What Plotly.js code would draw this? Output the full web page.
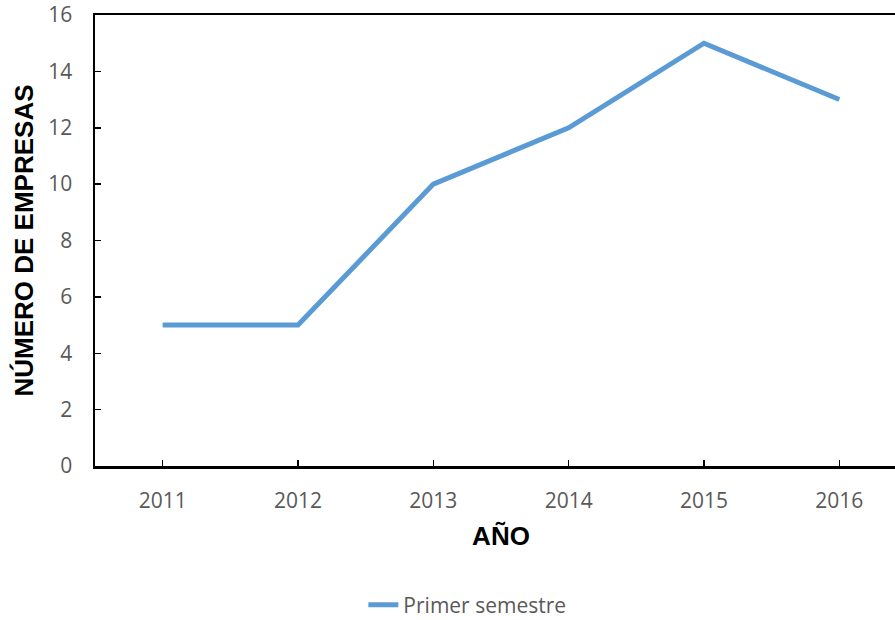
<!DOCTYPE html>
<html>
<head>
<meta charset="utf-8">
<script src="https://cdn.plot.ly/plotly-3.0.1.min.js"></script>
<style>
html,body{margin:0;padding:0;overflow:hidden;background:#fff;}
#chart{width:920px;height:620px;}
</style>
</head>
<body>
<div id="chart"></div>
<script>
const years = ['2011', '2012', '2013', '2014', '2015', '2016'];
const primerSemestre = [5, 5, 10, 12, 15, 13];
const yTicks = [0, 2, 4, 6, 8, 10, 12, 14, 16];
const seriesName = 'Primer semestre';
const xTitle = 'AÑO';
const yTitle = 'NÚMERO DE EMPRESAS';

const tickFont = {family: '"Open Sans", "Noto Sans", sans-serif', size: 21, color: '#595959'};
const titleFont = {family: '"Liberation Sans", Arial, sans-serif', size: 26, color: '#000000', weight: 'bold'};

const trace = {
  x: years,
  y: primerSemestre,
  type: 'scatter',
  mode: 'lines',
  name: seriesName,
  line: {color: '#5B9BD5', width: 5}
};

const layout = {
  width: 920,
  height: 620,
  margin: {l: 95, r: 13, t: 15, b: 154},
  paper_bgcolor: '#ffffff',
  plot_bgcolor: '#ffffff',
  showlegend: true,
  legend: {
    orientation: 'h',
    xref: 'container', yref: 'container',
    x: 0.508, xanchor: 'center',
    y: 0.024, yanchor: 'middle',
    font: tickFont
  },
  xaxis: {
    type: 'category',
    range: [-0.5, 5.5],
    automargin: false,
    showgrid: false,
    zeroline: false,
    showline: true,
    linecolor: '#000000',
    linewidth: 2.5,
    mirror: true,
    ticks: 'inside',
    ticklen: 6,
    tickwidth: 1.5,
    tickcolor: '#000000',
    tickfont: tickFont,
    ticklabelstandoff: 14,
    title: {text: xTitle, font: titleFont, standoff: 14}
  },
  yaxis: {
    range: [0, 16],
    tickvals: yTicks,
    automargin: false,
    showgrid: false,
    zeroline: false,
    showline: true,
    linecolor: '#000000',
    linewidth: 2.5,
    ticks: 'inside',
    ticklen: 6,
    tickwidth: 1.5,
    tickcolor: '#000000',
    tickfont: tickFont,
    ticklabelstandoff: 16,
    title: {text: yTitle, font: titleFont, standoff: 7}
  }
};

Plotly.newPlot('chart', [trace], layout, {displayModeBar: false, staticPlot: true});
</script>
</body>
</html>
